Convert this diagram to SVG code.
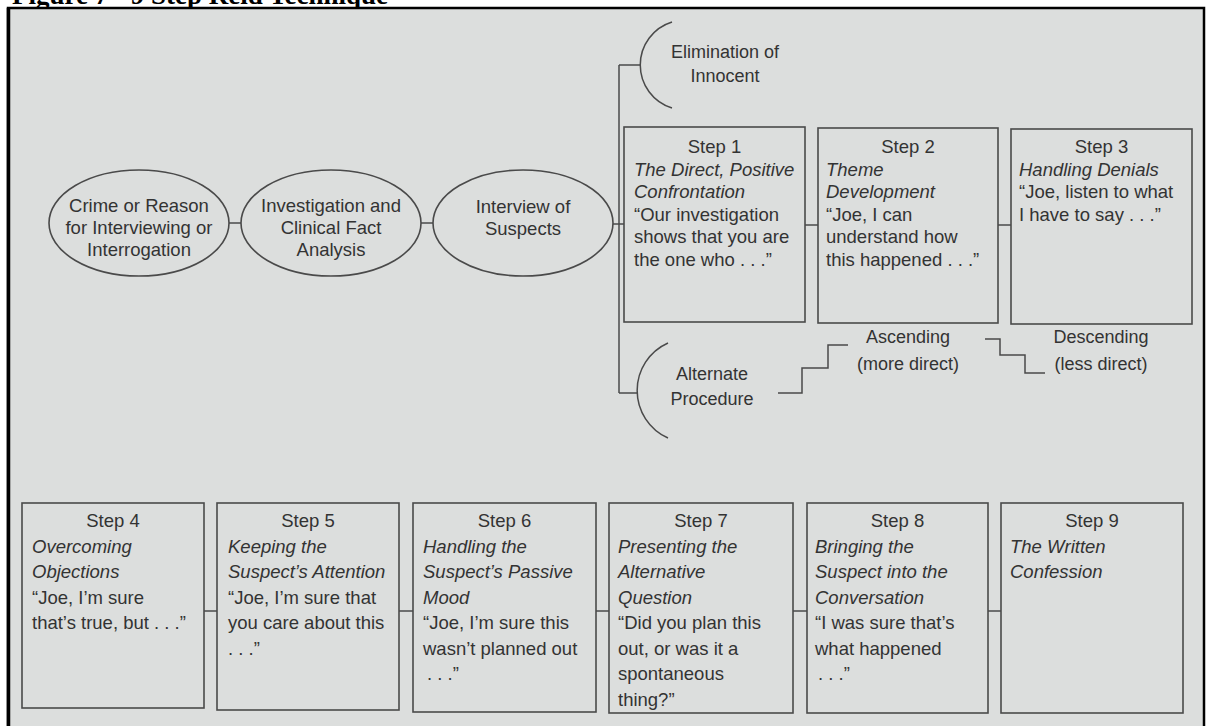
<svg xmlns="http://www.w3.org/2000/svg" width="1208" height="726" viewBox="0 0 1208 726">
<style>
.t{font-family:"Liberation Sans",Arial,Helvetica,sans-serif;font-size:18.5px;fill:#333}
.i{font-style:italic}
.c{text-anchor:middle}
.box{fill:none;stroke:#4a4a4a;stroke-width:1.6}
.ln{fill:none;stroke:#4a4a4a;stroke-width:1.5}
.title{font-family:"Liberation Serif","Times New Roman",serif;font-weight:bold;font-size:27px;fill:#000}
</style>
<rect x="0" y="0" width="1208" height="726" fill="#ffffff"/>
<text class="title" x="12" y="4">Figure 7 - 9 Step Reid Technique</text>
<rect x="8" y="8" width="1196" height="730" fill="#dcdedd" stroke="#000" stroke-width="2.5"/>
<line x1="8.5" y1="8" x2="8.5" y2="726" stroke="#000" stroke-width="3.5"/>

<g id="connectors">
  <line class="ln" x1="229" y1="223" x2="241" y2="223"/>
  <line class="ln" x1="421" y1="223" x2="433" y2="223"/>
  <line class="ln" x1="613" y1="224" x2="624" y2="224"/>
  <line class="ln" x1="619" y1="65" x2="619" y2="393"/>
  <line class="ln" x1="619" y1="65" x2="640" y2="65"/>
  <line class="ln" x1="619" y1="393" x2="637" y2="393"/>
  <line class="ln" x1="805" y1="225" x2="818" y2="225"/>
  <line class="ln" x1="998" y1="225" x2="1011" y2="225"/>
  <polyline class="ln" points="778,393 802,393 802,368 828,368 828,345 848,345"/>
  <polyline class="ln" points="985,339 1000,339 1000,355 1025,355 1025,373 1045,373"/>
  <line class="ln" x1="204" y1="611" x2="217" y2="611"/>
  <line class="ln" x1="399" y1="611" x2="413" y2="611"/>
  <line class="ln" x1="596" y1="611" x2="609" y2="611"/>
  <line class="ln" x1="793" y1="611" x2="807" y2="611"/>
  <line class="ln" x1="988" y1="611" x2="1001" y2="611"/>
</g>

<g id="n-crime">
  <ellipse class="box" cx="139" cy="223" rx="90" ry="53"/>
  <text class="t c" x="139" y="212">Crime or Reason</text>
  <text class="t c" x="139" y="234">for Interviewing or</text>
  <text class="t c" x="139" y="256">Interrogation</text>
</g>
<g id="n-investigation">
  <ellipse class="box" cx="331" cy="223" rx="90" ry="53"/>
  <text class="t c" x="331" y="212">Investigation and</text>
  <text class="t c" x="331" y="234">Clinical Fact</text>
  <text class="t c" x="331" y="256">Analysis</text>
</g>
<g id="n-interview">
  <ellipse class="box" cx="523" cy="223" rx="90" ry="53"/>
  <text class="t c" x="523" y="213">Interview of</text>
  <text class="t c" x="523" y="235">Suspects</text>
</g>

<g id="n-elimination">
  <path class="ln" d="M672,22 A45,45 0 0 0 672,108"/>
  <text class="t c" x="725" y="58" style="font-size:18px">Elimination of</text>
  <text class="t c" x="725" y="82" style="font-size:18px">Innocent</text>
</g>
<g id="n-alternate">
  <path class="ln" d="M668,343 A52,52 0 0 0 668,438"/>
  <text class="t c" x="712" y="380" style="font-size:18px">Alternate</text>
  <text class="t c" x="712" y="405" style="font-size:18px">Procedure</text>
</g>
<g id="n-ascending">
  <text class="t c" x="908" y="343" style="font-size:18px">Ascending</text>
  <text class="t c" x="908" y="370" style="font-size:18px">(more direct)</text>
</g>
<g id="n-descending">
  <text class="t c" x="1101" y="343" style="font-size:18px">Descending</text>
  <text class="t c" x="1101" y="370" style="font-size:18px">(less direct)</text>
</g>

<g id="n-step1">
  <rect class="box" x="624" y="127" width="181" height="195"/>
  <text class="t c" x="714.5" y="153">Step 1</text>
  <text class="t i" x="634" y="175.6">The Direct, Positive</text>
  <text class="t i" x="634" y="198.2">Confrontation</text>
  <text class="t" x="634" y="220.8">“Our investigation</text>
  <text class="t" x="634" y="243.4">shows that you are</text>
  <text class="t" x="634" y="266">the one who . . .”</text>
</g>
<g id="n-step2">
  <rect class="box" x="818" y="128" width="180" height="195"/>
  <text class="t c" x="908" y="153">Step 2</text>
  <text class="t i" x="826" y="175.6">Theme</text>
  <text class="t i" x="826" y="198.2">Development</text>
  <text class="t" x="826" y="220.8">“Joe, I can</text>
  <text class="t" x="826" y="243.4">understand how</text>
  <text class="t" x="826" y="266">this happened . . .”</text>
</g>
<g id="n-step3">
  <rect class="box" x="1011" y="129" width="181" height="195"/>
  <text class="t c" x="1101.5" y="153">Step 3</text>
  <text class="t i" x="1019" y="175.6">Handling Denials</text>
  <text class="t" x="1019" y="198.2">“Joe, listen to what</text>
  <text class="t" x="1019" y="220.8">I have to say . . .”</text>
</g>

<g id="n-step4">
  <rect class="box" x="22" y="503" width="182" height="205"/>
  <text class="t c" x="113" y="527">Step 4</text>
  <text class="t i" x="32" y="552.5">Overcoming</text>
  <text class="t i" x="32" y="578">Objections</text>
  <text class="t" x="32" y="603.5">“Joe, I’m sure</text>
  <text class="t" x="32" y="629">that’s true, but . . .”</text>
</g>
<g id="n-step5">
  <rect class="box" x="217" y="503" width="182" height="207"/>
  <text class="t c" x="308" y="527">Step 5</text>
  <text class="t i" x="228" y="552.5">Keeping the</text>
  <text class="t i" x="228" y="578">Suspect’s Attention</text>
  <text class="t" x="228" y="603.5">“Joe, I’m sure that</text>
  <text class="t" x="228" y="629">you care about this</text>
  <text class="t" x="228" y="654.5">. . .”</text>
</g>
<g id="n-step6">
  <rect class="box" x="413" y="503" width="183" height="209"/>
  <text class="t c" x="504.5" y="527">Step 6</text>
  <text class="t i" x="423" y="552.5">Handling the</text>
  <text class="t i" x="423" y="578">Suspect’s Passive</text>
  <text class="t i" x="423" y="603.5">Mood</text>
  <text class="t" x="423" y="629">“Joe, I’m sure this</text>
  <text class="t" x="423" y="654.5">wasn’t planned out</text>
  <text class="t" x="427" y="680">. . .”</text>
</g>
<g id="n-step7">
  <rect class="box" x="609" y="503" width="184" height="210"/>
  <text class="t c" x="701" y="527">Step 7</text>
  <text class="t i" x="618" y="552.5">Presenting the</text>
  <text class="t i" x="618" y="578">Alternative</text>
  <text class="t i" x="618" y="603.5">Question</text>
  <text class="t" x="618" y="629">“Did you plan this</text>
  <text class="t" x="618" y="654.5">out, or was it a</text>
  <text class="t" x="618" y="680">spontaneous</text>
  <text class="t" x="618" y="705.5">thing?”</text>
</g>
<g id="n-step8">
  <rect class="box" x="807" y="503" width="181" height="210"/>
  <text class="t c" x="897.5" y="527">Step 8</text>
  <text class="t i" x="815" y="552.5">Bringing the</text>
  <text class="t i" x="815" y="578">Suspect into the</text>
  <text class="t i" x="815" y="603.5">Conversation</text>
  <text class="t" x="815" y="629">“I was sure that’s</text>
  <text class="t" x="815" y="654.5">what happened</text>
  <text class="t" x="818" y="680">. . .”</text>
</g>
<g id="n-step9">
  <rect class="box" x="1001" y="503" width="182" height="210"/>
  <text class="t c" x="1092" y="527">Step 9</text>
  <text class="t i" x="1010" y="552.5">The Written</text>
  <text class="t i" x="1010" y="578">Confession</text>
</g>
</svg>
